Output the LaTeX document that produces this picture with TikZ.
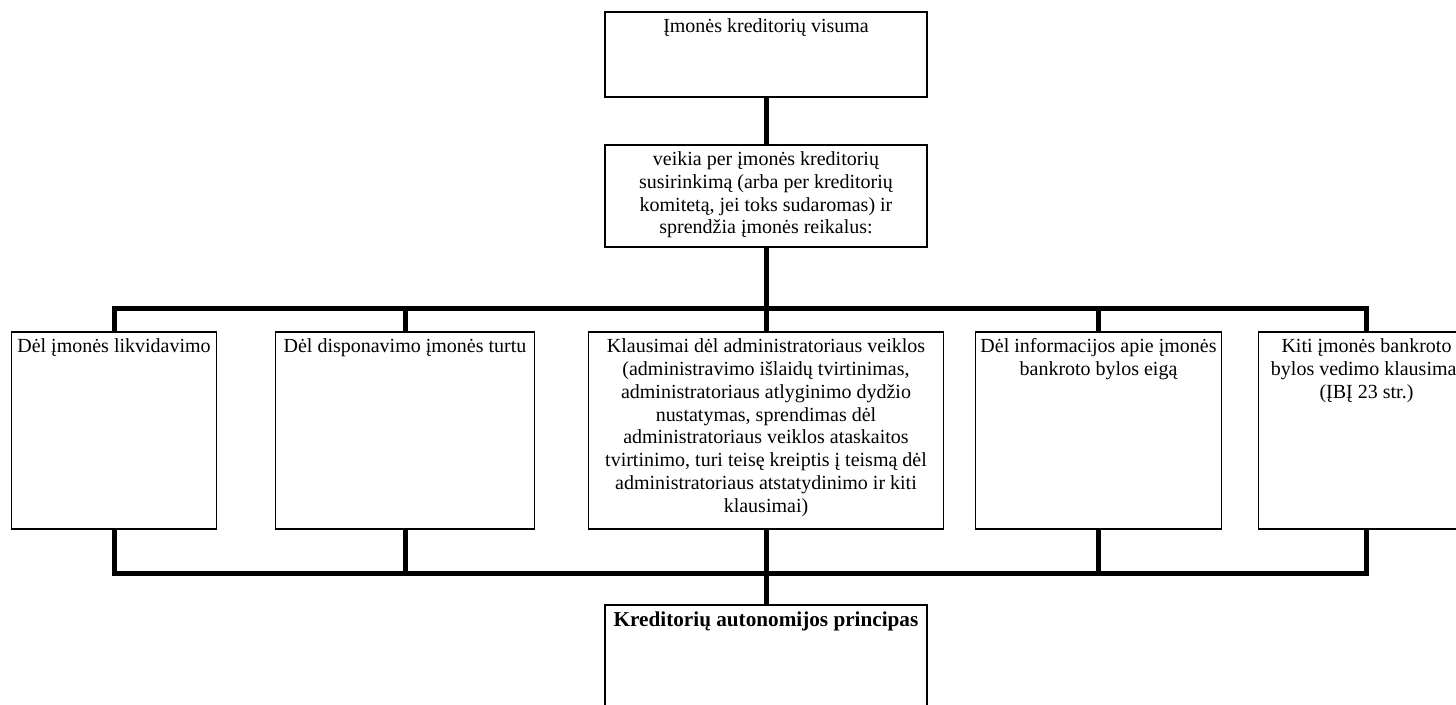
\documentclass[tikz,border=0pt]{standalone}
\usepackage{fontspec}
\setmainfont{Liberation Serif}
\usetikzlibrary{positioning}

\tikzset{
  box/.style={draw, rectangle, line width=0.8pt, inner sep=0pt},
  bus/.style={line width=2.5pt},
  txt/.style={anchor=north, align=center, inner sep=3.5pt, font=\fontsize{10}{11.4}\selectfont}
}

\begin{document}
\begin{tikzpicture}[x=0.5pt, y=-0.5pt]
  \useasboundingbox (0,0) rectangle (1456,705);

  \node (top) [box, minimum width=161pt, minimum height=42.5pt,
    label={[txt]north:Įmonės kreditorių visuma}] at (766,54.5) {};
  \node (mid) [box, minimum width=161pt, minimum height=51pt, below=23.2pt of top,
    label={[txt]north:{veikia per įmonės kreditorių\\susirinkimą (arba per kreditorių\\komitetą, jei toks sudaromas) ir\\sprendžia įmonės reikalus:}}] {};

  % antra eile
  \node (b3) [box, minimum width=177.5pt, minimum height=98.5pt, below=41.8pt of mid,
    label={[txt]north:{Klausimai dėl administratoriaus veiklos\\(administravimo išlaidų tvirtinimas,\\administratoriaus atlyginimo dydžio\\nustatymas, sprendimas dėl\\administratoriaus veiklos ataskaitos\\tvirtinimo, turi teisę kreiptis į teismą dėl\\administratoriaus atstatydinimo ir kiti\\klausimai)}}] {};
  \node (b2) [box, minimum width=129.5pt, minimum height=98.5pt, left=26.2pt of b3,
    label={[txt]north:Dėl disponavimo įmonės turtu}] {};
  \node (b1) [box, minimum width=102.5pt, minimum height=98.5pt, left=28.7pt of b2,
    label={[txt]north:Dėl įmonės likvidavimo}] {};
  \node (b4) [box, minimum width=123pt, minimum height=98.5pt, right=15.2pt of b3,
    label={[txt]north:{Dėl informacijos apie įmonės\\bankroto bylos eigą}}] {};
  \node (b5) [box, minimum width=108pt, minimum height=98.5pt, right=17.7pt of b4,
    label={[txt]north:{Kiti įmonės bankroto\\bylos vedimo klausimai\\(ĮBĮ 23 str.)}}] {};

  \node (bottom) [box, minimum width=161pt, minimum height=77pt, below=37.2pt of b3,
    label={[txt, font=\fontsize{10.6}{12}\selectfont\bfseries]north:Kreditorių autonomijos principas}] {};

  \coordinate (hi) at ([yshift=11.5pt]b3.north);
  \coordinate (lo) at ([yshift=-21.5pt]b3.south);

  \draw[bus] (top) -- (mid);
  \draw[bus] (mid) -- (b3) -- (bottom);
  \draw[bus] (b1.north) -- (b1.north |- hi) -- (b5.north |- hi) -- (b5.north);
  \draw[bus] (b1.south) -- (b1.south |- lo) -- (b5.south |- lo) -- (b5.south);
  \foreach \b in {b2,b4}
    \draw[bus] (\b.north |- hi) -- (\b.north) (\b.south) -- (\b.south |- lo);
\end{tikzpicture}
\end{document}
